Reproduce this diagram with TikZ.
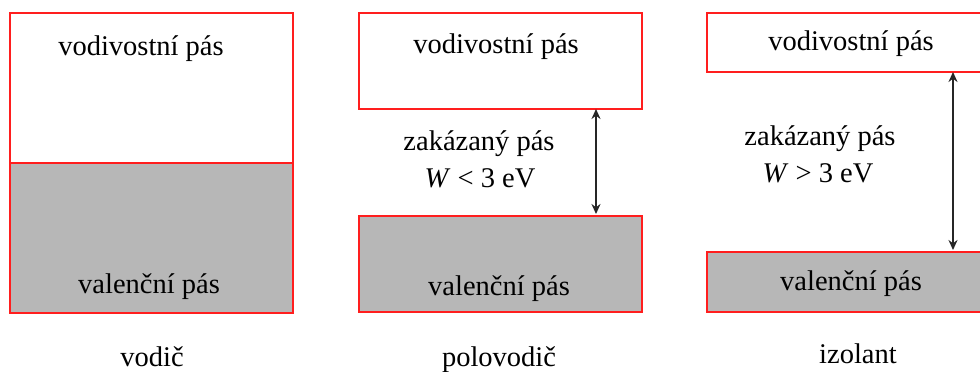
\documentclass[tikz,border=0pt]{standalone}
\usepackage{fontspec}
\setmainfont{Liberation Serif}
\usetikzlibrary{arrows.meta}
\definecolor{bandred}{RGB}{255,30,30}
\definecolor{bandgray}{RGB}{183,183,183}
\begin{document}
\begin{tikzpicture}[x=1pt,y=-1pt,
  band/.style={draw=bandred,line width=2pt,rectangle,inner sep=0pt,anchor=north west},
  full/.style={band,fill=white},
  val/.style={band,fill=bandgray},
  lbl/.style={font=\fontsize{28.5}{30}\selectfont,inner sep=0pt,anchor=base},
  gap/.style={line width=2.5pt,draw=black!85,{Stealth[length=10pt,width=9pt]}-{Stealth[length=10pt,width=9pt]}}]
\useasboundingbox (0,0) rectangle (980,372);
% vodic
\node[full,minimum width=283pt,minimum height=150pt] (c1) at (9,12) {};
\node[val,minimum width=283pt,minimum height=150pt] (v1) at (9,162) {};
\node[lbl] (c1t) at (141,55) {vodivostní pás};
\node[lbl] (v1t) at (149,293) {valenční pás};
\node[lbl] (n1) at (152,366) {vodič};
% polovodic
\node[full,minimum width=283pt,minimum height=96pt] (c2) at (358,12) {};
\node[val,minimum width=283pt,minimum height=96pt] (v2) at (358,215) {};
\node[lbl] (c2t) at (496,53) {vodivostní pás};
\node[lbl] (g2a) at (479,150) {zakázaný pás};
\node[lbl] (g2b) at (480,187) {\textit{W} < 3 eV};
\node[lbl] (v2t) at (499,295) {valenční pás};
\node[lbl] (n2) at (499,366) {polovodič};
\coordinate (a2t) at (596,109);
\coordinate (a2b) at (596,214);
\draw[gap] (a2t) -- (a2b);
% izolant
\node[full,minimum width=280pt,minimum height=59pt] (c3) at (706,12) {};
\node[val,minimum width=280pt,minimum height=60pt] (v3) at (706,251) {};
\node[lbl] (c3t) at (851,50) {vodivostní pás};
\node[lbl] (g3a) at (820,145) {zakázaný pás};
\node[lbl] (g3b) at (818,182) {\textit{W} > 3 eV};
\node[lbl] (v3t) at (851,290) {valenční pás};
\node[lbl] (n3) at (858,363) {izolant};
\coordinate (a3t) at (953,72);
\coordinate (a3b) at (953,250);
\draw[gap] (a3t) -- (a3b);
\end{tikzpicture}
\end{document}
